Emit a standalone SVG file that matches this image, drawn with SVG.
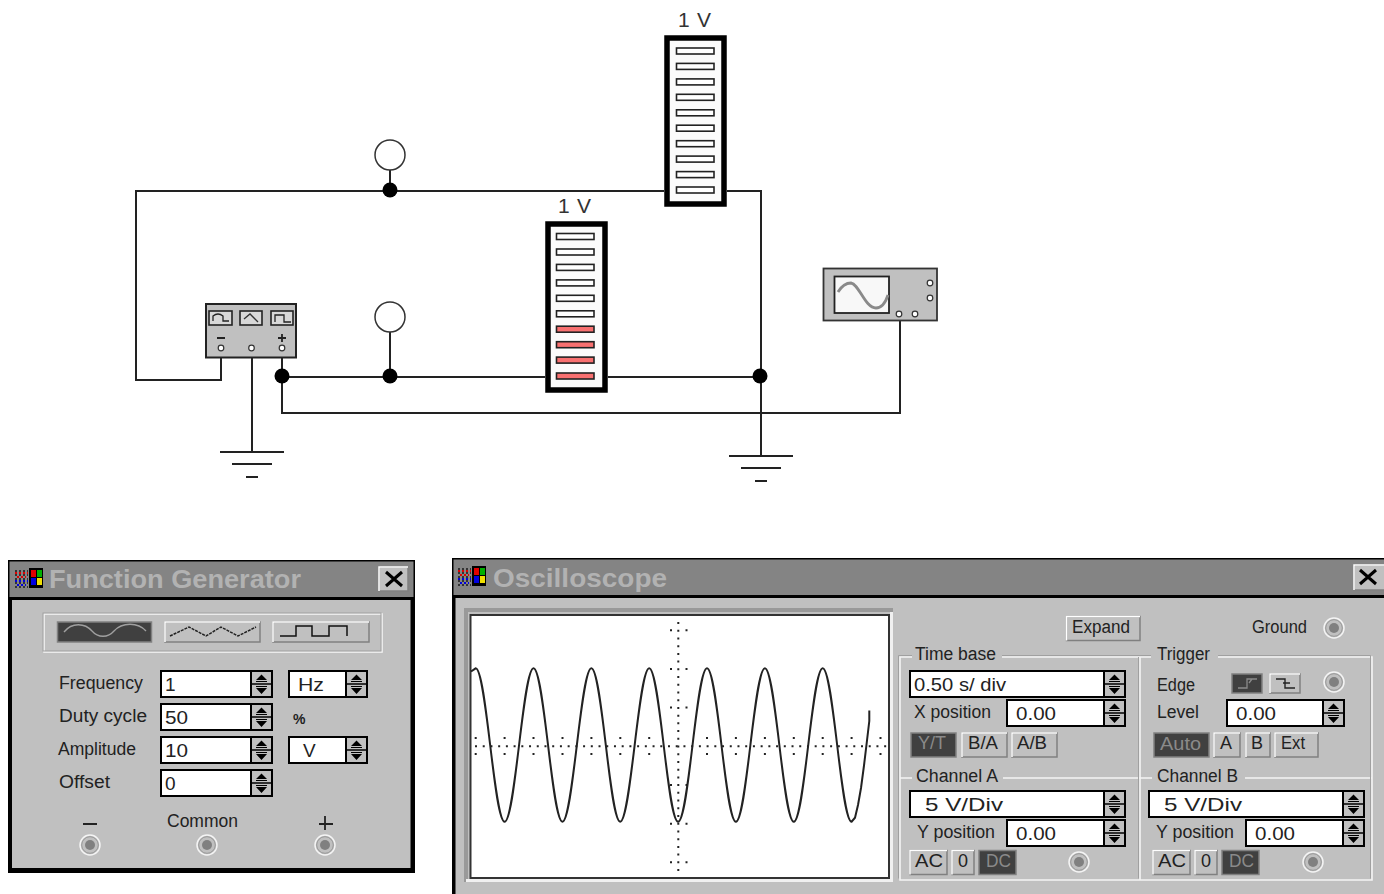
<svg xmlns="http://www.w3.org/2000/svg" width="1384" height="894" viewBox="0 0 1384 894">
<style>
text{font-family:"Liberation Sans",Arial,sans-serif;fill:#222;font-size:18px}
.title{font-weight:bold;font-size:26px;fill:#b2b2b2}
.val{font-size:19px}
.volt{font-size:21px;fill:#333}
.off{fill:#8a8a8a}
.w{fill:none;stroke:#222;stroke-width:2}
.jn{fill:#000}
.lamp{fill:#fff;stroke:#333;stroke-width:1.5}
.term{fill:#fff;stroke:#333;stroke-width:1.2}
.bar{fill:#fbfbfb;stroke:#000;stroke-width:5.5}
.seg{fill:#fff;stroke:#222;stroke-width:1.6}
.red{fill:#f87070;stroke:#222;stroke-width:1.6}
.bar-g{fill:#848484}
.panel{fill:#c0c0c0}
.btn{fill:#c0c0c0;stroke:#808080;stroke-width:1.5}
.dk{fill:#404040;stroke:#808080;stroke-width:1.5}
.hl{fill:none;stroke:#fff;stroke-width:1.5}
.in{fill:#fff;stroke:#000;stroke-width:2}
.eg{fill:none;stroke:#f4f4f4;stroke-width:1.6}
.eg2{fill:none;stroke:#a0a0a0;stroke-width:1}
.gnd{fill:none;stroke:#222;stroke-width:2}
</style>
<defs>
<g id="spin">
<rect x="0" y="0" width="21" height="26" fill="#c0c0c0" stroke="#000" stroke-width="2"/>
<path d="M0 13H21" stroke="#000" stroke-width="1.5"/>
<path d="M10.5 3.5L16 9H5ZM5 10H16V11H5ZM5 15H16V16H5ZM5 17H16L10.5 23Z" fill="#000"/>
</g>
<g id="knob">
<circle r="10" fill="#c0c0c0" stroke="#f4f4f4" stroke-width="1.5"/>
<circle r="8.3" fill="#c0c0c0" stroke="#999" stroke-width="1"/>
<circle r="5" fill="#808080"/>
</g>
<g id="icon">
<path d="M1 3h13M1 7h13M1 11h13M1 15h13M1 19h13" stroke="#333" stroke-width="2" stroke-dasharray="2 2"/>
<path d="M1 5h13M3 9h9" stroke="#e00000" stroke-width="2" stroke-dasharray="2 2"/>
<path d="M1 13h13M3 17h9" stroke="#0000e0" stroke-width="2" stroke-dasharray="2 2"/>
<rect x="15" y="0" width="14" height="20" fill="#000"/>
<rect x="17" y="2" width="5" height="7" fill="#e00000"/>
<rect x="23" y="2" width="5" height="7" fill="#00b000"/>
<rect x="17" y="10" width="5" height="7" fill="#0000e0"/>
<rect x="23" y="10" width="5" height="7" fill="#f0e000"/>
</g>
<g id="closeX">
<path d="M-8 -7L8 7M8 -7L-8 7" stroke="#000" stroke-width="3"/>
</g>
</defs>
<rect width="1384" height="894" fill="#fff"/>

<g id="connectors">
<path class="w" d="M390 191H136V380H221V350"/>
<path class="w" d="M390 191H664M727 191H761V456"/>
<path class="w" d="M282 350V413H900V318"/>
<path class="w" d="M282 377H545M608 377H761"/>
<path class="w" d="M252 350V452"/>
<path class="w" d="M390 170V191M390 332V377"/>
<path class="gnd" d="M220 452H284M232 464H272M246 477H258"/>
<path class="gnd" d="M729 456H793M741 468H781M755 481H767"/>
<circle class="jn" cx="390" cy="190" r="7.5"/>
<circle class="jn" cx="282" cy="376" r="7.5"/>
<circle class="jn" cx="390" cy="376" r="7.5"/>
<circle class="jn" cx="760" cy="376" r="7.5"/>
</g>

<g id="lamp-top"><circle class="lamp" cx="390" cy="155" r="15"/></g>
<g id="lamp-bottom"><circle class="lamp" cx="390" cy="317" r="15"/></g>

<g id="fg-symbol">
<rect x="206" y="304" width="90" height="53.500" fill="#c0c0c0" stroke="#222" stroke-width="2"/>
<rect x="209" y="311" width="23" height="14" fill="#d8d8d8" stroke="#222" stroke-width="1.6"/>
<rect x="240" y="311" width="22" height="14" fill="#d8d8d8" stroke="#222" stroke-width="1.6"/>
<rect x="271" y="311" width="22" height="14" fill="#d8d8d8" stroke="#222" stroke-width="1.6"/>
<path d="M213 321V316Q218 312 223 316V321H229" fill="none" stroke="#222" stroke-width="1.3"/>
<path d="M244 319L250 314L258 322" fill="none" stroke="#333" stroke-width="1.3"/>
<path d="M275 322V315H284V322H291" fill="none" stroke="#222" stroke-width="1.3"/>
<path d="M217 338H225M278 338H286M282 334V342" stroke="#222" stroke-width="1.8"/>
<circle class="term" cx="221" cy="348" r="2.800"/>
<circle class="term" cx="251.500" cy="348" r="2.800"/>
<circle class="term" cx="282" cy="348" r="2.800"/>
</g>

<g id="voltmeter-top">
<rect class="bar" x="667" y="38" width="57" height="166"/>
<rect class="seg" x="676.500" y="48" width="37.500" height="6"/>
<rect class="seg" x="676.500" y="63.400" width="37.500" height="6"/>
<rect class="seg" x="676.500" y="78.900" width="37.500" height="6"/>
<rect class="seg" x="676.500" y="94.300" width="37.500" height="6"/>
<rect class="seg" x="676.500" y="109.800" width="37.500" height="6"/>
<rect class="seg" x="676.500" y="125.200" width="37.500" height="6"/>
<rect class="seg" x="676.500" y="140.700" width="37.500" height="6"/>
<rect class="seg" x="676.500" y="156.100" width="37.500" height="6"/>
<rect class="seg" x="676.500" y="171.600" width="37.500" height="6"/>
<rect class="seg" x="676.500" y="187" width="37.500" height="6"/>
<text class="volt" x="678" y="27" textLength="33">1 V</text>
</g>

<g id="voltmeter-bottom">
<rect class="bar" x="548" y="224" width="57" height="166"/>
<rect class="seg" x="556.500" y="233.500" width="37.500" height="6"/>
<rect class="seg" x="556.500" y="249" width="37.500" height="6"/>
<rect class="seg" x="556.500" y="264.400" width="37.500" height="6"/>
<rect class="seg" x="556.500" y="279.900" width="37.500" height="6"/>
<rect class="seg" x="556.500" y="295.300" width="37.500" height="6"/>
<rect class="seg" x="556.500" y="310.800" width="37.500" height="6"/>
<rect class="red" x="556.500" y="326.200" width="37.500" height="6"/>
<rect class="red" x="556.500" y="341.700" width="37.500" height="6"/>
<rect class="red" x="556.500" y="357.100" width="37.500" height="6"/>
<rect class="red" x="556.500" y="373" width="37.500" height="6"/>
<text class="volt" x="558" y="213" textLength="33">1 V</text>
</g>

<g id="scope-symbol">
<rect x="823.500" y="268.500" width="113.500" height="52" fill="#c0c0c0" stroke="#333" stroke-width="1.8"/>
<rect x="834.500" y="276.500" width="54.500" height="36.500" fill="#f8f8f8" stroke="#222" stroke-width="1.8"/>
<path d="M838 292C843 284 847 283 851 283C859 284 865 308 876 308C881 308 885 304 888 295" fill="none" stroke="#8a8a8a" stroke-width="2.800"/>
<circle class="term" cx="930" cy="283" r="2.800"/>
<circle class="term" cx="930" cy="298" r="2.800"/>
<circle class="term" cx="899" cy="314" r="2.800"/>
<circle class="term" cx="915" cy="314" r="2.800"/>
</g>

<g id="function-generator">
<rect x="8" y="560" width="407" height="313" fill="#000"/>
<rect class="panel" x="12" y="600" width="398.500" height="268"/>
<rect class="bar-g" x="9.500" y="561.500" width="404" height="35.500"/>
<use href="#icon" x="14" y="568"/>
<text class="title" x="49" y="588" textLength="252" lengthAdjust="spacingAndGlyphs">Function Generator</text>
<rect class="btn" x="379" y="567" width="29" height="24"/><path class="hl" d="M379 591V567H408"/>
<use href="#closeX" x="394" y="579"/>
<rect class="eg" x="44" y="614" width="338" height="38"/><rect class="eg2" x="43" y="613" width="338" height="38"/>
<rect class="dk" x="57.500" y="622" width="94" height="20"/>
<path d="M64 632C72 622 85 623 92 631C98 638 108 638 114 631C122 622 138 622 146 631" fill="none" stroke="#a0a0a0" stroke-width="1.300"/>
<rect class="btn" x="165" y="622" width="95" height="20"/><path class="hl" d="M165 642V622H260"/>
<path d="M170 636L189 627L206 636L221 627L238 636L256 627" fill="none" stroke="#222" stroke-width="1.500" stroke-dasharray="3 1"/>
<rect class="btn" x="273" y="622" width="96" height="20"/><path class="hl" d="M273 642V622H369"/>
<path d="M280 636H296V626H312V636H329V626H347V636" fill="none" stroke="#111" stroke-width="1.500"/>

<text x="59" y="689" textLength="84" lengthAdjust="spacingAndGlyphs">Frequency</text>
<text x="59" y="722" textLength="88" lengthAdjust="spacingAndGlyphs">Duty cycle</text>
<text x="58" y="755" textLength="78" lengthAdjust="spacingAndGlyphs">Amplitude</text>
<text x="59" y="788" textLength="51" lengthAdjust="spacingAndGlyphs">Offset</text>

<rect class="in" x="161" y="671" width="91" height="26"/><use href="#spin" x="251" y="671"/>
<rect class="in" x="161" y="704" width="91" height="26"/><use href="#spin" x="251" y="704"/>
<rect class="in" x="161" y="737" width="91" height="26"/><use href="#spin" x="251" y="737"/>
<rect class="in" x="161" y="770" width="91" height="26"/><use href="#spin" x="251" y="770"/>
<text class="val" x="165" y="691">1</text>
<text class="val" x="165" y="724" textLength="23" lengthAdjust="spacingAndGlyphs">50</text>
<text class="val" x="165" y="757" textLength="23" lengthAdjust="spacingAndGlyphs">10</text>
<text class="val" x="165" y="790">0</text>
<rect class="in" x="289" y="671" width="58" height="26"/><use href="#spin" x="346" y="671"/>
<rect class="in" x="289" y="737" width="58" height="26"/><use href="#spin" x="346" y="737"/>
<text class="val" x="298" y="691" textLength="26" lengthAdjust="spacingAndGlyphs">Hz</text>
<text class="val" x="303" y="757">V</text>
<text x="293" y="724" style="font-size:14px;font-weight:bold">%</text>

<text x="167" y="827" textLength="71" lengthAdjust="spacingAndGlyphs">Common</text>
<path d="M83 824H97M319 824H333M325 816V830" stroke="#222" stroke-width="1.800"/>
<use href="#knob" x="90" y="845"/>
<use href="#knob" x="207" y="845"/>
<use href="#knob" x="325" y="845"/>
</g>

<g id="oscilloscope">
<rect x="452" y="558" width="932" height="336" fill="#000"/>
<rect class="panel" x="455.500" y="598" width="928.500" height="296"/>
<rect class="bar-g" x="453.500" y="559.500" width="930.500" height="35.500"/>
<use href="#icon" x="457" y="566"/>
<text class="title" x="493" y="587" textLength="174" lengthAdjust="spacingAndGlyphs">Oscilloscope</text>
<rect class="btn" x="1354" y="565" width="31" height="25"/><path class="hl" d="M1354 590V565H1385"/>
<use href="#closeX" x="1368" y="577"/>

<path d="M466 882V610H893" fill="none" stroke="#999" stroke-width="4"/>
<path d="M466 880.500H891.500V612" fill="none" stroke="#f0f0f0" stroke-width="3"/>
<rect x="470.500" y="615" width="418.500" height="263" fill="#fff" stroke="#333" stroke-width="2"/>
<g id="scope-grid" fill="none" stroke="#222" stroke-width="2">
<path d="M475 746.300H888" stroke-dasharray="2 5.720"/>
<path d="M678.300 622V871" stroke-dasharray="2 5.720"/>
<path d="M475.700 737V739M504.600 737V739M533.500 737V739M562.500 737V739M591.400 737V739M620.300 737V739M649.200 737V739M707 737V739M735.900 737V739M764.900 737V739M793.800 737V739M822.700 737V739M851.600 737V739M880.500 737V739"/>
<path d="M475.700 753V755M504.600 753V755M533.500 753V755M562.500 753V755M591.400 753V755M620.300 753V755M649.200 753V755M707 753V755M735.900 753V755M764.900 753V755M793.800 753V755M822.700 753V755M851.600 753V755M880.500 753V755"/>
<path d="M670 630.300h2M685.500 630.300h2M670 669h2M685.500 669h2M670 707.600h2M685.500 707.600h2M670 785h2M685.500 785h2M670 823.700h2M685.500 823.700h2M670 862.300h2M685.500 862.300h2"/>
</g>
<path fill="none" stroke="#222" stroke-width="2" d="M471 671.500L475.700 668.300C486.230 668.300 494.085 821.700 504.615 821.700S523 668.300 533.530 668.300S552 821.700 562.450 821.700S580.800 668.300 591.360 668.300S609.700 821.700 620.200 821.700S638.600 668.300 649.200 668.300S667.500 821.700 678.100 821.700S696.400 668.300 707 668.300S725.300 821.700 735.900 821.700S754.300 668.300 764.900 668.300S783.200 821.700 793.800 821.700S812.100 668.300 822.700 668.300S841 821.700 851.600 821.700L855 817.700L858 805L861 788L864 765.500L867 740.500L869.300 721V710.500"/>

<rect class="btn" x="1066.500" y="616.500" width="73.500" height="24"/><path class="hl" d="M1066.500 640.500V616.500H1140"/>
<text x="1072" y="633" textLength="58" lengthAdjust="spacingAndGlyphs">Expand</text>
<text x="1252" y="633" textLength="55" lengthAdjust="spacingAndGlyphs">Ground</text>
<use href="#knob" x="1334" y="628"/>

<g id="scope-frames">
<path class="eg" d="M912 657H900V880H1372V657H1218M1151 657H1002M1140 657V880M912 778H900M1003 778H1140H1152M1245 778H1372"/>
<path class="eg2" d="M912 655.500H898.500V878.500M1002 655.500H1151M1218 655.500H1370.500V878.500M1138.500 657V878.500"/>
</g>
<text x="915" y="660" textLength="81" lengthAdjust="spacingAndGlyphs">Time base</text>
<text x="1157" y="660" textLength="53" lengthAdjust="spacingAndGlyphs">Trigger</text>
<text x="916" y="782" textLength="82" lengthAdjust="spacingAndGlyphs">Channel A</text>
<text x="1157" y="782" textLength="81" lengthAdjust="spacingAndGlyphs">Channel B</text>

<rect class="in" x="910" y="671" width="195" height="26"/><use href="#spin" x="1104" y="671"/>
<text class="val" x="914" y="691" textLength="92" lengthAdjust="spacingAndGlyphs">0.50 s/ div</text>
<text x="914" y="718" textLength="77" lengthAdjust="spacingAndGlyphs">X position</text>
<rect class="in" x="1007" y="700" width="98" height="26"/><use href="#spin" x="1104" y="700"/>
<text class="val" x="1016" y="720" textLength="40" lengthAdjust="spacingAndGlyphs">0.00</text>
<rect class="dk" x="911" y="733" width="45" height="24"/>
<text class="off" x="918" y="749" textLength="28" lengthAdjust="spacingAndGlyphs">Y/T</text>
<rect class="btn" x="962" y="733" width="45" height="24"/><path class="hl" d="M962 757V733H1007"/>
<text x="968" y="749" textLength="30" lengthAdjust="spacingAndGlyphs">B/A</text>
<rect class="btn" x="1012" y="733" width="45" height="24"/><path class="hl" d="M1012 757V733H1057"/>
<text x="1017" y="749" textLength="30" lengthAdjust="spacingAndGlyphs">A/B</text>

<rect class="in" x="910" y="791" width="195" height="26"/><use href="#spin" x="1104" y="791"/>
<text class="val" x="925" y="811" textLength="78" lengthAdjust="spacingAndGlyphs">5 V/Div</text>
<text x="917" y="838" textLength="78" lengthAdjust="spacingAndGlyphs">Y position</text>
<rect class="in" x="1007" y="820" width="98" height="26"/><use href="#spin" x="1104" y="820"/>
<text class="val" x="1016" y="840" textLength="40" lengthAdjust="spacingAndGlyphs">0.00</text>
<rect class="btn" x="910" y="850.500" width="37" height="24"/><path class="hl" d="M910 874.500V850.500H947"/>
<text x="915" y="867" textLength="28" lengthAdjust="spacingAndGlyphs">AC</text>
<rect class="btn" x="952" y="850.500" width="22" height="24"/><path class="hl" d="M952 874.500V850.500H974"/>
<text x="958" y="867">0</text>
<rect class="dk" x="979" y="850.500" width="37" height="24"/>
<text class="off" x="986" y="867" textLength="25" lengthAdjust="spacingAndGlyphs">DC</text>
<use href="#knob" x="1079" y="862"/>

<text x="1157" y="691" textLength="38" lengthAdjust="spacingAndGlyphs">Edge</text>
<rect class="dk" x="1232" y="674" width="30" height="19"/>
<path d="M1238 688H1247V679H1257M1249 683L1252 679" fill="none" stroke="#8a8a8a" stroke-width="1.300"/>
<rect class="btn" x="1270" y="674" width="30" height="19"/><path class="hl" d="M1270 693V674H1300"/>
<path d="M1276 679H1285V688H1295M1283 683H1290" fill="none" stroke="#222" stroke-width="1.400"/>
<use href="#knob" x="1334" y="682"/>
<text x="1157" y="718" textLength="42" lengthAdjust="spacingAndGlyphs">Level</text>
<rect class="in" x="1227" y="700" width="97" height="26"/><use href="#spin" x="1323" y="700"/>
<text class="val" x="1236" y="720" textLength="40" lengthAdjust="spacingAndGlyphs">0.00</text>
<rect class="dk" x="1154" y="733" width="55" height="24"/>
<text class="off" x="1160" y="750" textLength="41" lengthAdjust="spacingAndGlyphs">Auto</text>
<rect class="btn" x="1214" y="733" width="26" height="24"/><path class="hl" d="M1214 757V733H1240"/>
<text x="1220" y="749">A</text>
<rect class="btn" x="1246" y="733" width="24" height="24"/><path class="hl" d="M1246 757V733H1270"/>
<text x="1251" y="749">B</text>
<rect class="btn" x="1275" y="733" width="43" height="24"/><path class="hl" d="M1275 757V733H1318"/>
<text x="1281" y="749" textLength="24" lengthAdjust="spacingAndGlyphs">Ext</text>

<rect class="in" x="1149" y="791" width="195" height="26"/><use href="#spin" x="1343" y="791"/>
<text class="val" x="1164" y="811" textLength="78" lengthAdjust="spacingAndGlyphs">5 V/Div</text>
<text x="1156" y="838" textLength="78" lengthAdjust="spacingAndGlyphs">Y position</text>
<rect class="in" x="1246" y="820" width="98" height="26"/><use href="#spin" x="1343" y="820"/>
<text class="val" x="1255" y="840" textLength="40" lengthAdjust="spacingAndGlyphs">0.00</text>
<rect class="btn" x="1153" y="850.500" width="37" height="24"/><path class="hl" d="M1153 874.500V850.500H1190"/>
<text x="1158" y="867" textLength="28" lengthAdjust="spacingAndGlyphs">AC</text>
<rect class="btn" x="1195" y="850.500" width="22" height="24"/><path class="hl" d="M1195 874.500V850.500H1217"/>
<text x="1201" y="867">0</text>
<rect class="dk" x="1222" y="850.500" width="37" height="24"/>
<text class="off" x="1229" y="867" textLength="25" lengthAdjust="spacingAndGlyphs">DC</text>
<use href="#knob" x="1313" y="862"/>
</g>
</svg>
